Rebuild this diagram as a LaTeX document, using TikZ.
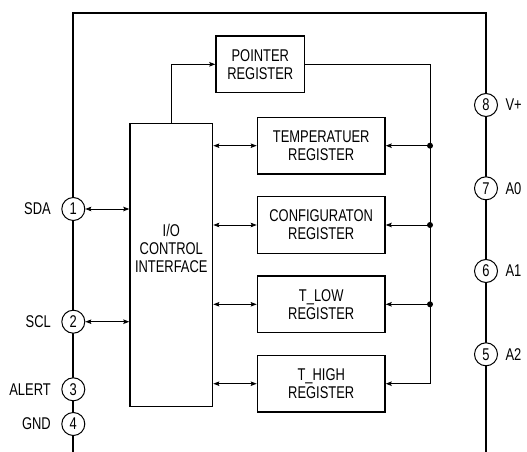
\documentclass[tikz,border=0pt]{standalone}
\usepackage{fontspec}
\setmainfont[FakeStretch=0.76]{Liberation Sans}
\usepackage{tikz}
\usetikzlibrary{arrows.meta}

\begin{document}
\begin{tikzpicture}[x=1pt, y=-1pt, >={Stealth[length=6pt, width=4.5pt, inset=1pt]},
    font=\fontsize{17}{18}\selectfont,
    regbox/.style={draw, line width=1.3pt, align=center, inner sep=0pt},
    pin/.style={draw, circle, line width=1pt, fill=white, minimum size=23pt, inner sep=0pt},
    wire/.style={line width=0.9pt}]
    \useasboundingbox (0,0) rectangle (527,452);

    % Package outline
    \draw[line width=2pt] (73.3,452) -- (73.3,13.3) -- (486,13.3) -- (486,452);

    % Registers
    \node[regbox, minimum width=88.7pt, minimum height=56.7pt] (ptr) at (260.3,64.3) {POINTER\\REGISTER};
    \node[regbox, minimum width=127.7pt, minimum height=56.7pt] (temp) at (321.2,145.7) {TEMPERATUER\\REGISTER};
    \node[regbox, minimum width=127.7pt, minimum height=56.7pt] (conf) at (321.2,225) {CONFIGURATON\\REGISTER};
    \node[regbox, minimum width=127.7pt, minimum height=56.7pt] (tlow) at (321.2,304.3) {T\_LOW\\REGISTER};
    \node[regbox, minimum width=127.7pt, minimum height=56.7pt] (thigh) at (321.2,383.7) {T\_HIGH\\REGISTER};

    % I/O block
    \node[regbox, minimum width=82.7pt, minimum height=283.3pt] (io) at (171.3,265) {};
    \node[align=center] (iotext) at (171.3,248) {I/O\\CONTROL\\INTERFACE};

    % Pins
    \foreach \n/\y/\lbl in {1/209/SDA, 2/321.7/SCL, 3/389.3/ALERT, 4/424/GND} {
      \node[pin] (p\n) at (73.3,\y) {\n};
      \node[anchor=east] (l\n) at ([xshift=-7pt]p\n.west) {\lbl};
    }
    \foreach \n/\y/\lbl in {8/105/V+, 7/188.3/A0, 6/271/A1, 5/354.3/A2} {
      \node[pin] (p\n) at (486,\y) {\n};
      \node[anchor=west] (l\n) at ([xshift=4pt]p\n.east) {\lbl};
    }

    % Serial lines into I/O
    \draw[wire, <->] (p1.east) -- (io.west |- p1.east);
    \draw[wire, <->] (p2.east) -- (io.west |- p2.east);

    % I/O to registers
    \draw[wire, ->] (io.north) |- (ptr.west);
    \foreach \r in {temp, conf, tlow, thigh}
      \draw[wire, <->] (io.east |- \r.west) -- (\r.west);

    % Pointer bus
    \coordinate (bus) at (430,0);
    \draw[wire, ->] (ptr.east) -| (bus |- thigh.east) -- (thigh.east);
    \foreach \r in {temp, conf, tlow} {
      \draw[wire, ->] (bus |- \r.east) -- (\r.east);
      \fill (bus |- \r.east) circle (3pt);
    }
\end{tikzpicture}
\end{document}
